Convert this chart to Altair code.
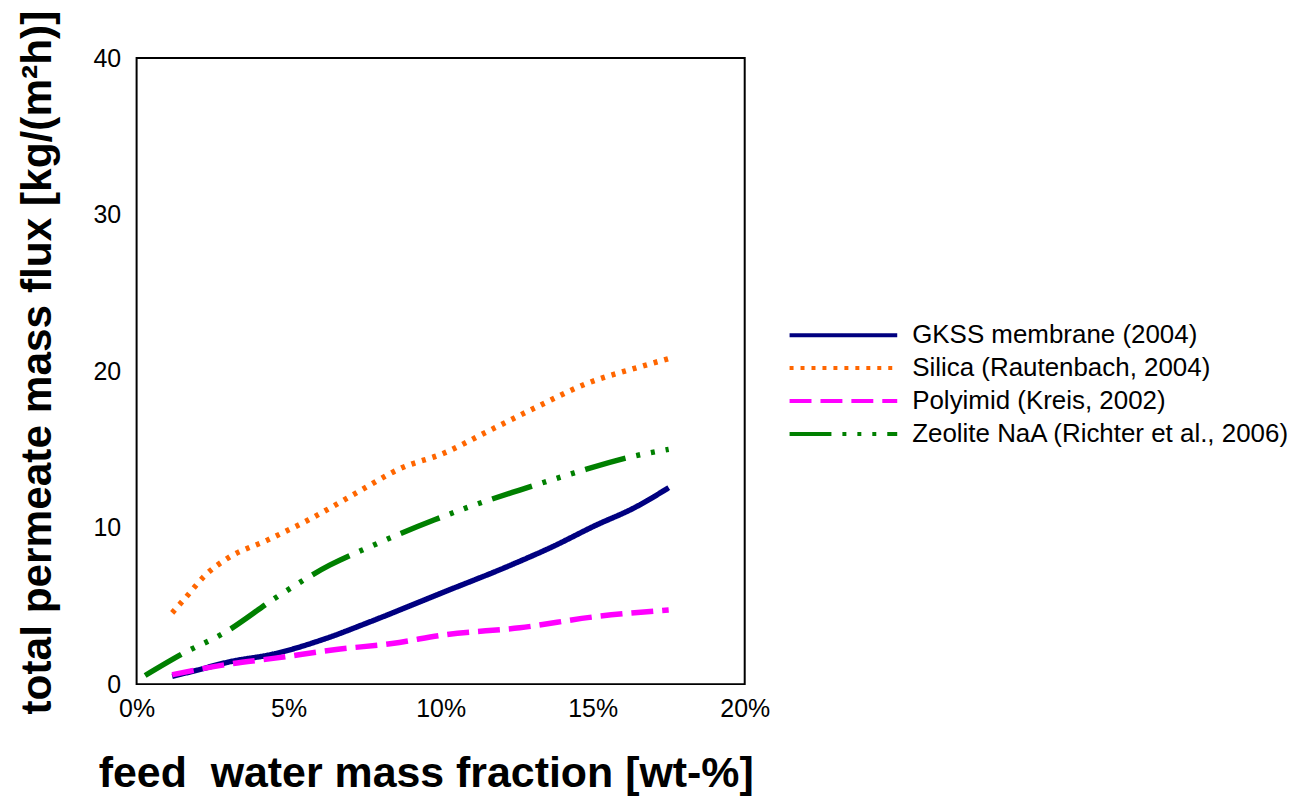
import altair as alt
import pandas as pd

series = [
    "GKSS membrane (2004)",
    "Silica (Rautenbach, 2004)",
    "Polyimid (Kreis, 2002)",
    "Zeolite NaA (Richter et al., 2006)",
]
colors = ["#000080", "#FF6600", "#FF00FF", "#008000"]
dashes = [[1, 0], [4, 7], [22, 9], [42, 11, 4, 11, 4, 11, 4, 11]]

gkss_x = [0.0117, 0.020, 0.030, 0.0456, 0.062, 0.077, 0.100, 0.123, 0.137, 0.1505, 0.164, 0.175]
gkss_y = [0.5, 0.9, 1.4, 1.95, 2.9, 4.0, 5.8, 7.6, 8.8, 10.1, 11.3, 12.55]

silica_x = [0.0117, 0.016, 0.0228, 0.0304, 0.043, 0.0566, 0.073, 0.087, 0.101, 0.115, 0.131, 0.148, 0.166, 0.175]
silica_y = [4.55, 5.5, 7.0, 8.1, 9.2, 10.5, 12.3, 13.8, 14.75, 16.1, 17.65, 19.2, 20.3, 20.8]

poly_x = [0.0117, 0.029, 0.0456, 0.065, 0.084, 0.102, 0.126, 0.1505, 0.175]
poly_y = [0.6, 1.24, 1.66, 2.2, 2.6, 3.17, 3.6, 4.3, 4.74]

zeo_x = [0.0028, 0.015, 0.029, 0.0456, 0.0635, 0.077, 0.098, 0.109, 0.126, 0.144, 0.162, 0.175]
zeo_y = [0.55, 1.93, 3.3, 5.5, 7.6, 8.8, 10.5, 11.3, 12.4, 13.5, 14.5, 15.0]

x_ticks = [0, 0.05, 0.10, 0.15, 0.20]
y_ticks = [0, 10, 20, 30, 40]

rows = []
for name, xs, ys in zip(series, [gkss_x, silica_x, poly_x, zeo_x], [gkss_y, silica_y, poly_y, zeo_y]):
    for i, (xv, yv) in enumerate(zip(xs, ys)):
        rows.append({"series": name, "x": xv, "y": yv, "order": i})
df = pd.DataFrame(rows)

FONT = "Liberation Sans"

legend = alt.Legend(
    title=None,
    orient="none",
    legendX=653,
    legendY=265,
    symbolType="stroke",
    symbolSize=11664,
    symbolStrokeWidth=4,
    clipHeight=26,
    labelFontSize=26,
    labelFont=FONT,
    labelColor="black",
    labelOffset=13,
    rowPadding=7,
    padding=0,
    labelLimit=500,
)

chart = (
    alt.Chart(df)
    .mark_line(strokeWidth=5.5, interpolate="monotone")
    .encode(
        x=alt.X(
            "x:Q",
            scale=alt.Scale(domain=[0, 0.2], nice=False),
            axis=alt.Axis(
                values=x_ticks,
                format=".0%",
                title="feed\u00a0 water mass fraction [wt-%]",
                titleFont=FONT,
                titleFontSize=43,
                titleFontWeight="bold",
                titleColor="black",
                titleX=290,
                titleY=103,
                titleAlign="center",
                titleBaseline="alphabetic",
                labelFont=FONT,
                labelFontSize=25,
                labelColor="black",
                labelPadding=12,
                labelFlush=False,
                domain=False,
                ticks=False,
                grid=False,
            ),
        ),
        y=alt.Y(
            "y:Q",
            scale=alt.Scale(domain=[0, 40], nice=False),
            axis=alt.Axis(
                values=y_ticks,
                title="total permeate mass flux [kg/(m²h)]",
                titleFont=FONT,
                titleFontSize=42.5,
                titleFontWeight="bold",
                titleColor="black",
                titleX=-77,
                titleY=305,
                titleAngle=-90,
                titleAlign="center",
                titleBaseline="bottom",
                labelFont=FONT,
                labelFontSize=25,
                labelColor="black",
                labelPadding=16,
                labelFlush=False,
                domain=False,
                ticks=False,
                grid=False,
            ),
        ),
        color=alt.Color("series:N", scale=alt.Scale(domain=series, range=colors), legend=legend),
        strokeDash=alt.StrokeDash("series:N", scale=alt.Scale(domain=series, range=dashes), legend=legend),
        order="order:Q",
    )
    .properties(
        width=610,
        height=628,
        padding={"left": 129, "top": 49, "right": 550, "bottom": 115},
        autosize=alt.AutoSizeParams(type="none"),
        background="white",
    )
    .configure_view(stroke="black", strokeWidth=2)
)

chart.save("out.html", embed_options={"renderer": "svg", "actions": False})
